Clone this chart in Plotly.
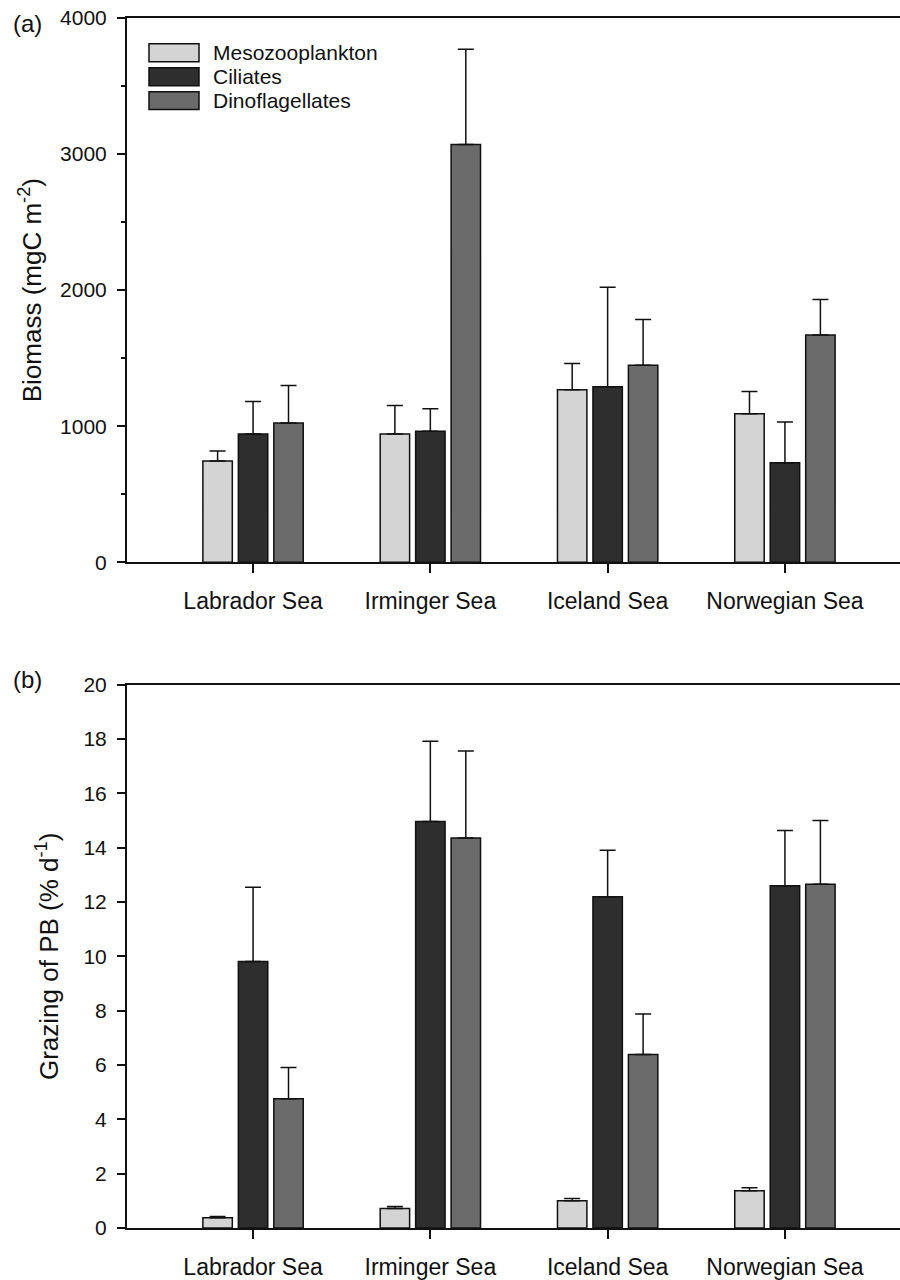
import plotly.graph_objects as go

regions = ["Labrador Sea", "Irminger Sea", "Iceland Sea", "Norwegian Sea"]
series = ["Mesozooplankton", "Ciliates", "Dinoflagellates"]
colors = ["#d4d4d4", "#2e2e2e", "#6b6b6b"]

# Panel (a) Biomass (mgC m-2): means and upper error (top of whisker)
bio_meso = [744, 943, 1267, 1092]
bio_meso_top = [817, 1153, 1460, 1255]
bio_cil = [943, 963, 1290, 731]
bio_cil_top = [1182, 1128, 2021, 1031]
bio_dino = [1024, 3071, 1448, 1670]
bio_dino_top = [1299, 3771, 1784, 1931]

# Panel (b) Grazing of PB (% d-1)
gr_meso = [0.38, 0.72, 1.00, 1.37]
gr_meso_top = [0.42, 0.79, 1.09, 1.48]
gr_cil = [9.81, 14.96, 12.19, 12.60]
gr_cil_top = [12.54, 17.92, 13.91, 14.63]
gr_dino = [4.76, 14.36, 6.39, 12.65]
gr_dino_top = [5.91, 17.56, 7.88, 15.00]

FONT = "Liberation Sans, Arial, sans-serif"
FS = 21
INK = "#111111"

fig = go.Figure()

def add_panel(vals, tops, xa, ya):
    for name, v, t, c in zip(series, vals, tops, colors):
        err = [tt - vv for tt, vv in zip(t, v)]
        fig.add_trace(go.Bar(
            x=list(range(len(regions))), y=v, name=name,
            marker=dict(color=c, line=dict(color=INK, width=1.5)),
            error_y=dict(type="data", symmetric=False, array=err,
                         arrayminus=[0] * len(err), color=INK,
                         thickness=1.5, width=8),
            xaxis=xa, yaxis=ya, showlegend=False,
        ))

add_panel([bio_meso, bio_cil, bio_dino], [bio_meso_top, bio_cil_top, bio_dino_top], "x", "y")
add_panel([gr_meso, gr_cil, gr_dino], [gr_meso_top, gr_cil_top, gr_dino_top], "x2", "y2")

xcommon = dict(
    range=[-0.711, 3.649], tickmode="array", tickvals=list(range(len(regions))),
    ticktext=regions, ticks="outside", ticklen=9, tickwidth=1.5, tickcolor=INK,
    showline=True, linecolor=INK, linewidth=2, mirror=True,
    showgrid=False, zeroline=False, ticklabelstandoff=8,
    tickfont=dict(family=FONT, size=23, color=INK),
)
ycommon = dict(
    ticks="outside", ticklen=8, tickwidth=1.5, tickcolor=INK,
    showline=True, linecolor=INK, linewidth=2,
    showgrid=False, zeroline=False, ticklabelstandoff=6,
    tickfont=dict(family=FONT, size=FS, color=INK),
)

fig.update_layout(
    width=900, height=1280,
    margin=dict(l=127, r=0, t=18, b=46),
    paper_bgcolor="white", plot_bgcolor="white",
    barmode="group", bargap=0.4, bargroupgap=0.17,
    font=dict(family=FONT, size=FS, color=INK),
    xaxis=dict(domain=[0, 1], anchor="y", **xcommon),
    xaxis2=dict(domain=[0, 1], anchor="y2", **xcommon),
    yaxis=dict(domain=[0.5502, 1.0], anchor="x", range=[0, 4000], dtick=1000,
               minor=dict(dtick=500, ticks="outside", ticklen=4, tickwidth=1.5,
                          tickcolor=INK, showgrid=False),
               title=dict(text="Biomass (mgC m<sup>-2</sup>)", standoff=11,
                          font=dict(family=FONT, size=26, color=INK)),
               **ycommon),
    yaxis2=dict(domain=[0, 0.449], anchor="x2", range=[0, 20], dtick=2,
                title=dict(text="Grazing of PB (% d<sup>-1</sup>)", standoff=17,
                           font=dict(family=FONT, size=26, color=INK)),
                **ycommon),
    showlegend=False,
)

# Panel labels
fig.add_annotation(text="(a)", xref="paper", yref="paper", x=(28 - 127) / 773, y=(1234 - 24) / 1216,
                   showarrow=False, xanchor="center", yanchor="middle",
                   font=dict(family=FONT, size=24, color=INK))
fig.add_annotation(text="(b)", xref="paper", yref="paper", x=(28 - 127) / 773, y=(1234 - 683) / 1216,
                   showarrow=False, xanchor="center", yanchor="middle",
                   font=dict(family=FONT, size=24, color=INK))

# Custom legend (panel a)
row_px = [53, 77, 101]
for name, c, yc in zip(series, colors, row_px):
    y0 = (1234 - (yc + 9)) / 1216
    y1 = (1234 - (yc - 9)) / 1216
    fig.add_shape(type="rect", xref="paper", yref="paper",
                  x0=(149 - 127) / 773, x1=(199 - 127) / 773, y0=y0, y1=y1,
                  fillcolor=c, line=dict(color=INK, width=1.5))
    fig.add_annotation(text=name, xref="paper", yref="paper",
                       x=(211 - 127) / 773, y=(1234 - yc) / 1216,
                       showarrow=False, xanchor="left", yanchor="middle",
                       font=dict(family=FONT, size=FS, color=INK))

fig.write_html("out.html")
